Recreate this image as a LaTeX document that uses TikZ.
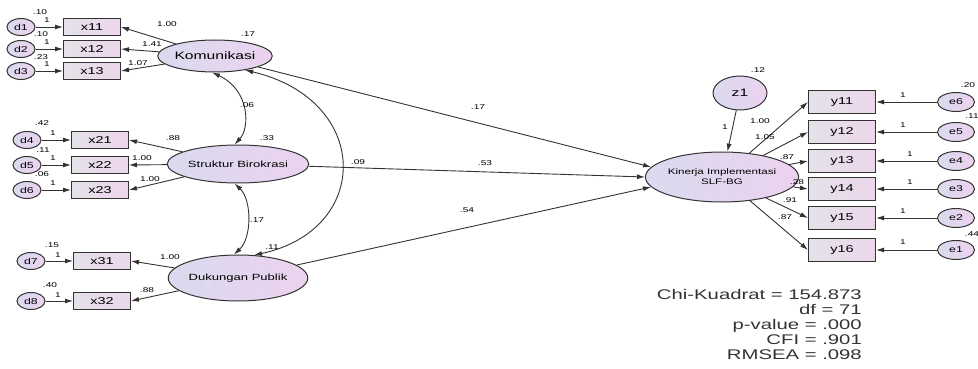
\documentclass[tikz,border=0pt]{standalone}
\usepackage{fontspec}
\setmainfont{Liberation Sans}[FakeStretch=1.45]
\usetikzlibrary{arrows.meta,shapes.geometric}
\definecolor{myline}{HTML}{333333}
\definecolor{latleft}{HTML}{DADAEE}
\definecolor{latright}{HTML}{ECD2EE}
\definecolor{boxleft}{HTML}{E4E2E8}
\definecolor{boxright}{HTML}{ECD6EC}
\tikzset{
  obs/.style={draw=myline, line width=1pt, left color=boxleft, right color=boxright,
              minimum width=57pt, minimum height=17pt, inner sep=0pt, font=\fontsize{10}{12}\selectfont},
  obsr/.style={obs, minimum width=67pt, minimum height=23pt},
  latent/.style={ellipse, draw=myline, line width=1pt, left color=latleft, right color=latright,
                 inner sep=0pt, font=\fontsize{10.8}{12}\selectfont},
  err/.style={latent, minimum width=28pt, minimum height=17pt, font=\fontsize{8.5}{10}\selectfont},
  errr/.style={err, minimum width=37pt, minimum height=19pt},
  arr/.style={-{Latex[length=8pt,width=5pt]}, line width=0.9pt, draw=myline},
  cov/.style={{Latex[length=8pt,width=5pt]}-{Latex[length=8pt,width=5pt]}, line width=0.9pt, draw=myline},
  lab/.style={font=\fontsize{7}{8}\selectfont, inner sep=0pt},
}
\begin{document}
\begin{tikzpicture}[x=1pt,y=-1pt]
    \useasboundingbox (0,0) rectangle (978,369);
    % Komunikasi
    \node[err] (d1) at (21,27) {d1};
    \node[err] (d2) at (21,49) {d2};
    \node[err] (d3) at (21,71) {d3};
    \node[obs] (x11) at (92,27) {x11};
    \node[obs] (x12) at (92,49) {x12};
    \node[obs] (x13) at (92,71) {x13};
    \node[latent, minimum width=114pt, minimum height=32pt] (kom) at (215,56) {Komunikasi};
    % Struktur Birokrasi
    \node[err] (d4) at (27,140) {d4};
    \node[err] (d5) at (27,165) {d5};
    \node[err] (d6) at (27,190) {d6};
    \node[obs] (x21) at (100,140) {x21};
    \node[obs] (x22) at (100,165) {x22};
    \node[obs] (x23) at (100,190) {x23};
    \node[latent, minimum width=114pt, minimum height=38pt, font=\fontsize{9}{11}\selectfont]
      (str) at (238,164) {Struktur Birokrasi};
    % Dukungan Publik
    \node[err] (d7) at (31,261) {d7};
    \node[err] (d8) at (31,301) {d8};
    \node[obs] (x31) at (102,261) {x31};
    \node[obs] (x32) at (102,301) {x32};
    \node[latent, minimum width=116pt, minimum height=46pt, font=\fontsize{9}{11}\selectfont]
      (duk) at (238,278) {Dukungan Publik};
    % Kinerja
    \node[latent, minimum width=130pt, minimum height=50pt, align=center,
          font=\fontsize{8}{10}\selectfont] (kin) at (722,177) {Kinerja Implementasi\\SLF-BG};
    \node[latent, minimum width=54pt, minimum height=34pt] (z1) at (740,93) {z1};
    \node[obsr] (y11) at (842,102) {y11};
    \node[obsr] (y12) at (842,132) {y12};
    \node[obsr] (y13) at (842,161) {y13};
    \node[obsr] (y14) at (842,189) {y14};
    \node[obsr] (y15) at (842,218) {y15};
    \node[obsr] (y16) at (842,250) {y16};
    \node[errr] (e6) at (956,102) {e6};
    \node[errr] (e5) at (956,132) {e5};
    \node[errr] (e4) at (956,161) {e4};
    \node[errr] (e3) at (956,189) {e3};
    \node[errr] (e2) at (956,218) {e2};
    \node[errr] (e1) at (956,250) {e1};

    % measurement paths
    \draw[arr] (d1)--(x11); \draw[arr] (d2)--(x12); \draw[arr] (d3)--(x13);
    \draw[arr] (kom)--(x11.east); \draw[arr] (kom)--(x12.east); \draw[arr] (kom)--(x13.east);
    \draw[arr] (d4)--(x21); \draw[arr] (d5)--(x22); \draw[arr] (d6)--(x23);
    \draw[arr] (str)--(x21.east); \draw[arr] (str)--(x22.east); \draw[arr] (str)--(x23.east);
    \draw[arr] (d7)--(x31); \draw[arr] (d8)--(x32);
    \draw[arr] (duk)--(x31.east); \draw[arr] (duk)--(x32.east);
    \draw[arr] (e6)--(y11); \draw[arr] (e5)--(y12); \draw[arr] (e4)--(y13);
    \draw[arr] (e3)--(y14); \draw[arr] (e2)--(y15); \draw[arr] (e1)--(y16);
    \draw[arr] (kin)--(y11.west); \draw[arr] (kin)--(y12.west); \draw[arr] (kin)--(y13.west);
    \draw[arr] (kin)--(y14.west); \draw[arr] (kin)--(y15.west); \draw[arr] (kin)--(y16.west);
    % structural paths
    \draw[arr] (kom)--(kin.172); \draw[arr] (str)--(kin.180); \draw[arr] (duk)--(kin.188);
    \draw[arr] (z1)--(kin);
    % covariances
    \draw[cov] (kom.-100) .. controls (250,90) and (250,128) .. (str.100);
    \draw[cov] (str.-100) .. controls (252,200) and (252,238) .. (duk.100);
    \draw[cov] (kom.-25) .. controls (372,100) and (372,230) .. (duk.55);

    % estimates
    \node[lab] (vd1) at (40,12) {.10};
    \node[lab] (vd2) at (41,34) {.10};
    \node[lab] (vd3) at (41,57) {.23};
    \node[lab] (od1) at (47,20) {1};
    \node[lab] (od2) at (47,42) {1};
    \node[lab] (od3) at (47,64) {1};
    \node[lab] (l11) at (167,24) {1.00};
    \node[lab] (l12) at (152,44) {1.41};
    \node[lab] (l13) at (138,63) {1.07};
    \node[lab] (vkom) at (248,34) {.17};
    \node[lab] (ckomstr) at (247,105) {.06};
    \node[lab] (vd4) at (42,123) {.42};
    \node[lab] (vd5) at (43,150) {.11};
    \node[lab] (vd6) at (42,174) {.06};
    \node[lab] (od4) at (53,133) {1};
    \node[lab] (od5) at (53,158) {1};
    \node[lab] (od6) at (53,183) {1};
    \node[lab] (l21) at (173,138) {.88};
    \node[lab] (l22) at (142,158) {1.00};
    \node[lab] (l23) at (150,179) {1.00};
    \node[lab] (vstr) at (267,138) {.33};
    \node[lab] (cstrduk) at (257,220) {.17};
    \node[lab] (vd7) at (52,245) {.15};
    \node[lab] (vd8) at (50,285) {.40};
    \node[lab] (od7) at (58,255) {1};
    \node[lab] (od8) at (58,295) {1};
    \node[lab] (l31) at (170,257) {1.00};
    \node[lab] (l32) at (147,290) {.88};
    \node[lab] (vduk) at (272,247) {.11};
    \node[lab] (ckomduk) at (358,162) {.09};
    \node[lab] (pkom) at (478,107) {.17};
    \node[lab] (pstr) at (485,163) {.53};
    \node[lab] (pduk) at (467,210) {.54};
    \node[lab] (vz1) at (758,70) {.12};
    \node[lab] (oz1) at (725,127) {1};
    \node[lab] (m11) at (760,121) {1.00};
    \node[lab] (m12) at (765,137) {1.05};
    \node[lab] (m13) at (787,157) {.87};
    \node[lab] (m14) at (797,182) {.28};
    \node[lab] (m15) at (790,200) {.91};
    \node[lab] (m16) at (785,217) {.87};
    \node[lab] (oe6) at (903,95) {1};
    \node[lab] (oe5) at (903,125) {1};
    \node[lab] (oe4) at (910,154) {1};
    \node[lab] (oe3) at (910,182) {1};
    \node[lab] (oe2) at (903,211) {1};
    \node[lab] (oe1) at (903,242) {1};
    \node[lab] (ve6) at (968,85) {.20};
    \node[lab] (ve5) at (972,116) {.11};
    \node[lab] (ve1) at (972,234) {.44};

    % fit indices
    \node[font=\fontsize{14}{15}\selectfont, align=right, anchor=north east, inner sep=0pt, text=myline]
      (fit) at (862,289) {Chi-Kuadrat = 154.873\\df = 71\\p-value = .000\\CFI = .901\\RMSEA = .098};
\end{tikzpicture}
\end{document}
